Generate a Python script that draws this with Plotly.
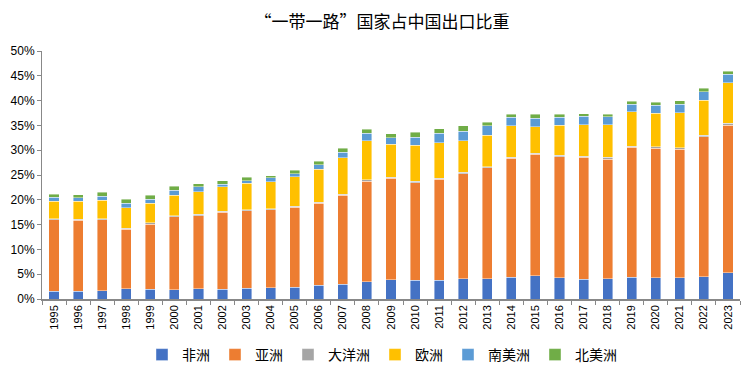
import plotly.graph_objects as go

years = [str(y) for y in range(1995, 2024)]

africa = [1.6,1.6,1.7,2.1,2.0,1.9,2.1,2.0,2.2,2.3,2.4,2.8,3.0,3.5,3.9,3.8,3.8,4.1,4.1,4.4,4.7,4.3,4.0,4.1,4.4,4.3,4.3,4.5,5.3]
asia = [14.4,14.3,14.3,12.0,13.1,14.7,14.7,15.5,15.6,15.7,16.1,16.5,17.9,20.2,20.4,19.6,20.3,21.2,22.4,24.0,24.5,24.4,24.6,24.1,26.2,26.1,25.9,28.2,29.7]
oceania = [0.2,0.2,0.2,0.2,0.3,0.2,0.3,0.2,0.2,0.2,0.2,0.2,0.2,0.3,0.2,0.3,0.2,0.3,0.2,0.2,0.2,0.3,0.2,0.4,0.2,0.3,0.3,0.3,0.4]
europe = [3.5,3.6,3.7,4.1,3.9,4.1,4.5,4.9,5.3,5.4,5.9,6.7,7.4,7.9,6.7,7.3,7.2,6.3,6.3,6.3,5.3,6.0,6.3,6.5,7.0,6.8,7.1,7.1,8.2]
s_america = [0.8,0.7,0.8,0.9,0.8,1.0,1.0,0.5,0.5,0.8,0.7,0.9,1.1,1.5,1.3,1.6,1.9,1.9,1.9,1.7,1.7,1.6,1.7,1.6,1.5,1.6,1.7,1.7,1.7]
n_america = [0.6,0.6,0.8,0.8,0.8,0.8,0.6,0.7,0.7,0.5,0.7,0.7,0.8,0.8,0.8,1.0,0.9,1.1,0.7,0.6,0.8,0.6,0.5,0.5,0.6,0.6,0.7,0.7,0.6]

series = [
    ("非洲", africa, "#4472C4"),
    ("亚洲", asia, "#ED7D31"),
    ("大洋洲", oceania, "#A5A5A5"),
    ("欧洲", europe, "#FFC000"),
    ("南美洲", s_america, "#5B9BD5"),
    ("北美洲", n_america, "#70AD47"),
]

fig = go.Figure()
for name, vals, color in series:
    fig.add_trace(go.Bar(
        x=years, y=vals, name=name,
        marker=dict(color=color, line=dict(color="rgba(255,255,255,0.7)", width=0.6)),
    ))

W, H = 748, 370  # page body adds an 8px offset
font_family = "Liberation Sans, Noto Sans CJK SC, sans-serif"
fig.update_layout(
    barmode="stack",
    bargap=0.58,
    width=W, height=H,
    margin=dict(l=34, r=16, t=43, b=79, autoexpand=False),
    paper_bgcolor="white", plot_bgcolor="white",
    font=dict(family=font_family, color="#000000"),
    title=dict(text="“一带一路”国家占中国出口比重", x=0.5, xanchor="center", y=1 - 14 / H, yanchor="middle",
               font=dict(family="Noto Sans CJK SC, sans-serif", size=17, color="#000")),
    showlegend=True,
    legend=dict(orientation="h", x=0.5, xanchor="center", xref="container",
                y=1 - 347 / H, yanchor="middle", yref="container",
                font=dict(family="Noto Sans CJK SC, sans-serif", size=14), traceorder="normal",
                itemwidth=30, tracegroupgap=0),
    xaxis=dict(type="category", tickangle=-90, tickfont=dict(size=11, family=font_family),
               showline=True, linecolor="#888888", linewidth=1.5, automargin=False,
               ticks="outside", tickson="boundaries", ticklen=4, tickcolor="#888888",
               showgrid=False),
    yaxis=dict(range=[0, 50], dtick=5, ticksuffix="%", tickfont=dict(size=12, family=font_family),
               showline=True, linecolor="#888888", linewidth=1, automargin=False,
               ticks="outside", ticklen=4, tickcolor="#888888",
               showgrid=False, zeroline=False),
)

fig.write_html("out.html")
